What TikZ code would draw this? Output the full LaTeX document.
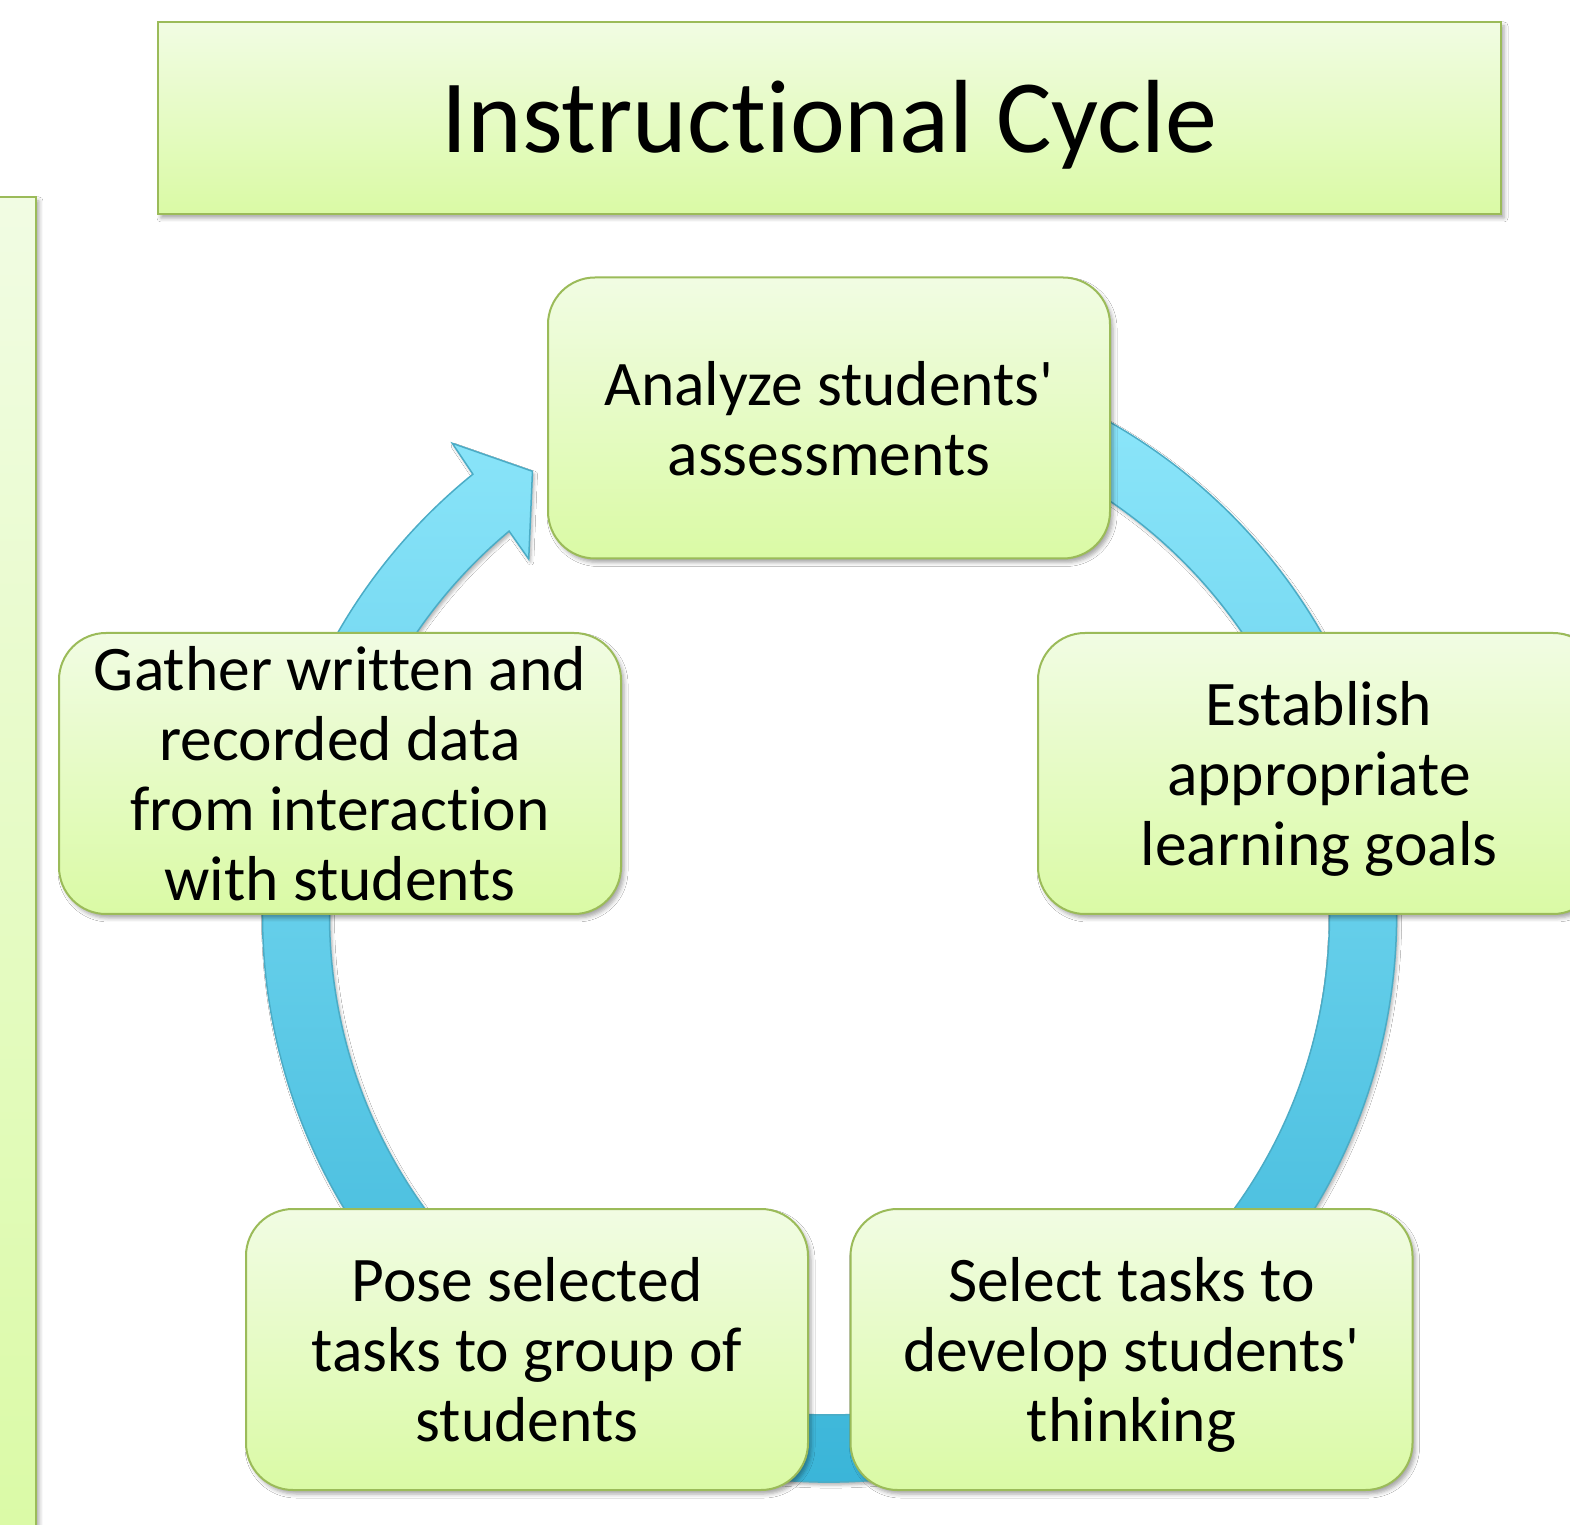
\documentclass[tikz,border=0pt]{standalone}
\usepackage{fontspec}
\setmainfont{Carlito}[Ligatures=TeXOff, RawFeature={-liga;-clig;-calt;-rlig;-dlig;-hlig}]
\usetikzlibrary{shadows.blur}

\definecolor{boxtop}{RGB}{241,252,227}
\definecolor{boxbot}{RGB}{218,250,165}
\definecolor{boxline}{RGB}{155,187,89}
\definecolor{ringtop}{RGB}{147,234,253}
\definecolor{ringmid}{RGB}{118,218,243}
\definecolor{ringbot}{RGB}{55,179,215}
\definecolor{ringline}{RGB}{75,172,198}

\tikzset{
  panel/.style={draw=boxline, line width=2.5pt, top color=boxtop, bottom color=boxbot,
    blur shadow={shadow xshift=3pt, shadow yshift=-4pt, shadow blur radius=4pt,
    shadow opacity=35}},
  % text depth=0pt so a descender on the last line does not lift the text
  stage/.style={panel, rounded corners=47pt, line width=2pt, minimum width=562pt,
    minimum height=281pt, inner sep=0pt, align=center, text depth=0pt,
    font=\fontsize{63.5}{70}\selectfont},
  ring/.style={draw=ringline, line width=1.5pt, top color=ringtop, middle color=ringmid,
    bottom color=ringbot,
    blur shadow={shadow xshift=2pt, shadow yshift=-3pt, shadow blur radius=3pt,
    shadow opacity=30}}
}

\begin{document}
\begin{tikzpicture}[x=1pt,y=1pt]
\useasboundingbox (0,0) rectangle (1570,1524);
\fill[white] (0,0) rectangle (1570,1524);

% heading and side bar
\node[panel, minimum width=1343pt, minimum height=192pt, inner sep=0pt,
  text height=75pt, text depth=5pt,
  font=\fontsize{104}{110}\selectfont] (title) at (829.5,1406) {Instructional Cycle};
\path[panel] (-20,-40) rectangle (36,1327);

% the cycle arrow, hidden start under the top box
\coordinate (hub) at (829.5,609);
\begin{scope}[shift={(hub)}]
\path[ring] (100:567) arc[start angle=100, end angle=-231.03, radius=567]
  -- (128.65:604) -- (123.8:534) -- (130.2:466) -- (129.85:500)
  arc[start angle=-230.15, end angle=100, radius=500] -- cycle;
\end{scope}

% the five steps
\node[stage] (analyze) at (829,1106) {Analyze students'\\assessments};
\node[stage] (establish) at (1319,750.5) {Establish\\appropriate\\learning goals};
\node[stage] (select) at (1131.5,174.5) {Select tasks to\\develop students'\\thinking};
\node[stage] (pose) at (527,174.5) {Pose selected\\tasks to group of\\students};
\node[stage] (gather) at (340,750.5) {Gather written and\\recorded data\\from interaction\\with students};
\end{tikzpicture}
\end{document}
